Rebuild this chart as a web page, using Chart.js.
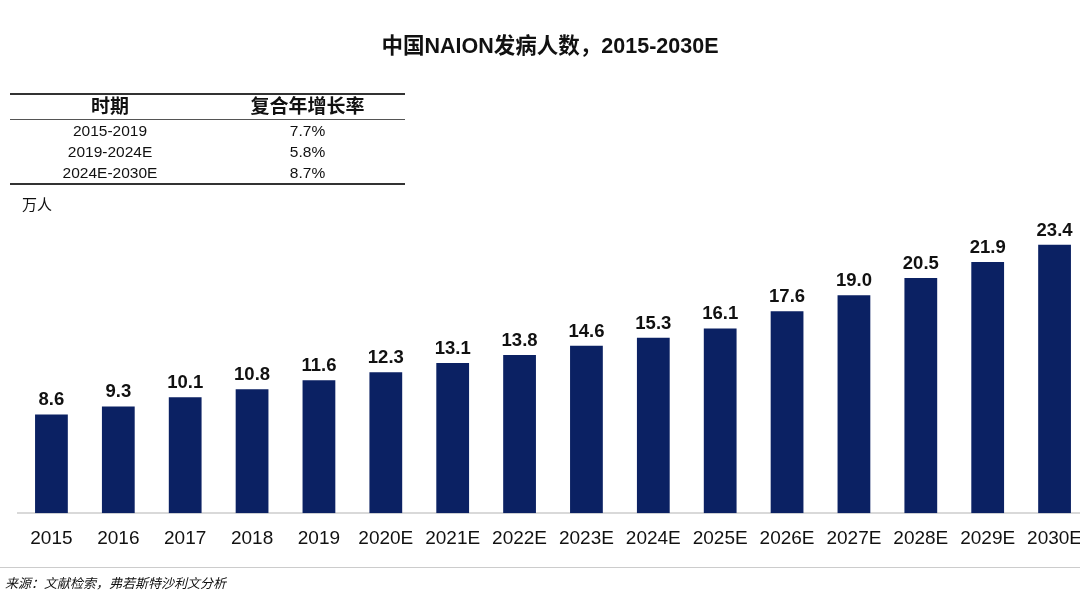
<!DOCTYPE html>
<html>
<head>
<meta charset="utf-8">
<script src="https://cdn.jsdelivr.net/npm/chart.js@4"></script>
<style>
  html, body { margin: 0; padding: 0; width: 1080px; height: 593px; overflow: hidden; background: #fff; }
  body { position: relative; font-family: "Liberation Sans", Arial, "Noto Sans CJK SC", sans-serif; color: #111; }
  #wrap { position: absolute; left: 0; top: 0; width: 1090px; height: 593px; }
  .title { position: absolute; top: 28px; left: 0; width: 1100px; text-align: center; font-size: 21.5px; font-weight: bold; }
  table { position: absolute; left: 10px; top: 93px; width: 395px; border-collapse: collapse; font-size: 15.5px; }
  table th { font-size: 19px; font-weight: bold; height: 24px; line-height: 20px; padding: 0; border-top: 2px solid #333; border-bottom: 1px solid #555; }
  table td { text-align: center; height: 21px; line-height: 18px; padding: 0; }
  table tr.last td { border-bottom: 2px solid #333; }
  .unit { position: absolute; left: 22px; top: 193px; font-size: 15px; }
  .srcline { position: absolute; left: 0; top: 567px; width: 1080px; border-top: 1px solid #ccc; }
  .src { position: absolute; left: 5px; top: 573px; font-size: 13px; font-style: italic; font-family: "Noto Sans CJK SC", sans-serif; }
</style>
</head>
<body>
<div id="wrap"><canvas id="my-chart"></canvas></div>
<div class="title">中国NAION发病人数，2015-2030E</div>
<table>
  <tr><th style="width:200px">时期</th><th>复合年增长率</th></tr>
  <tr><td>2015-2019</td><td>7.7%</td></tr>
  <tr><td>2019-2024E</td><td>5.8%</td></tr>
  <tr class="last"><td>2024E-2030E</td><td>8.7%</td></tr>
</table>
<div class="unit">万人</div>
<div class="srcline"></div>
<div class="src">来源：文献检索，弗若斯特沙利文分析</div>
<script>
"use strict";

// chart data
let years = ["2015", "2016", "2017", "2018", "2019", "2020E", "2021E", "2022E",
  "2023E", "2024E", "2025E", "2026E", "2027E", "2028E", "2029E", "2030E"];
let patients = [8.6, 9.3, 10.1, 10.8, 11.6, 12.3, 13.1, 13.8, 14.6, 15.3, 16.1, 17.6, 19.0, 20.5, 21.9, 23.4];

// draw value above each bar
let valueLabels = {
  id: "valueLabels",
  afterDatasetsDraw(chart) {
    let ctx = chart.ctx;
    let meta = chart.getDatasetMeta(0);
    ctx.save();
    ctx.font = "bold 18.5px 'Liberation Sans', Arial, sans-serif";
    ctx.fillStyle = "#111";
    ctx.textAlign = "center";
    ctx.textBaseline = "bottom";
    for (let i = 0; i < meta.data.length; i++) {
      let bar = meta.data[i];
      ctx.fillText(patients[i].toFixed(1), bar.x, bar.y - 5);
    }
    ctx.restore();
  }
};

let ctx = document.getElementById("my-chart").getContext("2d");
let myChart = new Chart(ctx, {
  type: "bar",
  data: {
    labels: years,
    datasets: [{
      data: patients,
      backgroundColor: "#0b2163",
      barPercentage: 0.49,
      categoryPercentage: 1,
    }],
  },
  options: {
    responsive: true,
    maintainAspectRatio: false,
    animation: false,
    layout: { padding: { left: 18, right: 2, top: 215, bottom: 37 } },
    plugins: { legend: { display: false }, tooltip: { enabled: false } },
    scales: {
      x: {
        grid: { display: false },
        border: { color: "#d9d9d9", width: 2 },
        ticks: { color: "#111", padding: 6, font: { size: 19, family: "'Liberation Sans', Arial, sans-serif" } },
      },
      y: { display: false, min: 0, max: 26 },
    },
  },
  plugins: [valueLabels],
});
</script>
</body>
</html>
